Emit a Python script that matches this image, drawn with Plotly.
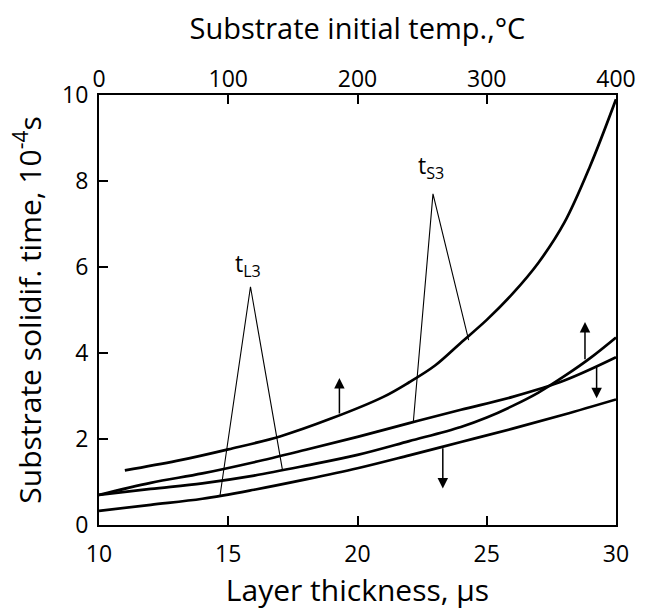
import plotly.graph_objects as go

# ---- data ----
thickness_ticks = [10, 15, 20, 25, 30]
temp_ticks = [0, 100, 200, 300, 400]
time_ticks = [0, 2, 4, 6, 8, 10]

# curve A (steep, upper)
a_x = [11, 13, 15, 17, 19, 21, 22, 23, 24, 25, 26, 27, 28, 29, 30]
a_y = [1.27, 1.49, 1.76, 2.06, 2.48, 2.98, 3.32, 3.71, 4.24, 4.77, 5.38, 6.10, 7.03, 8.35, 9.9]
# curve B (nearly straight, ends ~3.9)
b_x = [10, 12, 14, 16, 18, 20, 22, 24, 26, 28, 30]
b_y = [0.70, 0.98, 1.20, 1.46, 1.75, 2.05, 2.37, 2.68, 2.98, 3.36, 3.90]
# curve C (crosses B, ends ~4.4)
c_x = [10, 12, 14, 16, 18, 20, 22, 24, 25, 26, 27, 28, 29, 30]
c_y = [0.70, 0.84, 0.97, 1.15, 1.38, 1.63, 1.95, 2.28, 2.50, 2.77, 3.08, 3.46, 3.88, 4.36]
# curve D (lowest)
d_x = [10, 12, 14, 16, 18, 20, 22, 24, 26, 28, 30]
d_y = [0.33, 0.47, 0.61, 0.82, 1.06, 1.32, 1.62, 1.93, 2.24, 2.57, 2.92]

# pointer lines for labels
tl3_x = [14.68, 15.86, 17.1]
tl3_y = [0.68, 5.54, 1.27]
ts3_x = [22.16, 22.92, 24.3]
ts3_y = [2.40, 7.70, 4.30]
labels = ["t<sub>L3</sub>", "t<sub>S3</sub>"]
label_x = [15.75, 22.85]
label_y = [6.05, 8.33]

# arrows: x, base y, tip y
arrow_x = [19.3, 28.8, 29.25, 23.3]
arrow_base = [2.56, 3.82, 3.72, 1.82]
arrow_tip = [3.42, 4.72, 2.95, 0.85]

FONT = "Open Sans"
fig = go.Figure()
for xs, ys in [(a_x, a_y), (b_x, b_y), (c_x, c_y), (d_x, d_y)]:
    fig.add_trace(go.Scatter(x=xs, y=ys, mode="lines",
                             line=dict(color="black", width=2.7, shape="spline", smoothing=1.0),
                             showlegend=False, hoverinfo="skip"))
for xs, ys in [(tl3_x, tl3_y), (ts3_x, ts3_y)]:
    fig.add_trace(go.Scatter(x=xs, y=ys, mode="lines",
                             line=dict(color="black", width=1.1),
                             showlegend=False, hoverinfo="skip"))
# invisible trace carrying the top temperature axis
fig.add_trace(go.Scatter(x=temp_ticks, y=[None] * len(temp_ticks), xaxis="x2",
                         mode="markers", showlegend=False, hoverinfo="skip"))

for t, lx, ly in zip(labels, label_x, label_y):
    fig.add_annotation(x=lx, y=ly, text=t, showarrow=False,
                       font=dict(family=FONT, size=23, color="black"))
for ax_, b, tp in zip(arrow_x, arrow_base, arrow_tip):
    fig.add_annotation(x=ax_, y=tp, ax=ax_, ay=b, axref="x", ayref="y",
                       xref="x", yref="y", text="", showarrow=True,
                       arrowhead=2, arrowsize=1.4, arrowwidth=1.5,
                       arrowcolor="black", standoff=0, startstandoff=0)

axis_common = dict(showgrid=False, zeroline=False, showline=True, linecolor="black",
                   linewidth=2, ticks="inside", ticklen=9, tickwidth=1.5,
                   tickcolor="black",
                   tickfont=dict(family=FONT, size=23, color="black"))

fig.update_layout(
    width=660, height=612,
    margin=dict(l=99, r=44, t=95, b=87),
    paper_bgcolor="white", plot_bgcolor="white",
    font=dict(family=FONT, color="black"),
    xaxis=dict(range=[10, 30], tickvals=thickness_ticks, ticklabelstandoff=7,
               title=dict(text="Layer thickness, μs", standoff=6,
                          font=dict(family=FONT, size=30, color="black")),
               **axis_common),
    xaxis2=dict(range=[0, 400], tickvals=temp_ticks, overlaying="x", side="top",
                ticklabelstandoff=-3,
                title=dict(text="Substrate initial temp.,°C", standoff=14,
                           font=dict(family=FONT, size=29, color="black")),
                **axis_common),
    yaxis=dict(range=[0, 10], tickvals=time_ticks, mirror=True, ticklabelstandoff=4,
               title=dict(text="Substrate solidif. time, 10<sup>-4</sup>s", standoff=12,
                          font=dict(family=FONT, size=30, color="black")),
               **axis_common),
)

fig.write_html("out.html")
